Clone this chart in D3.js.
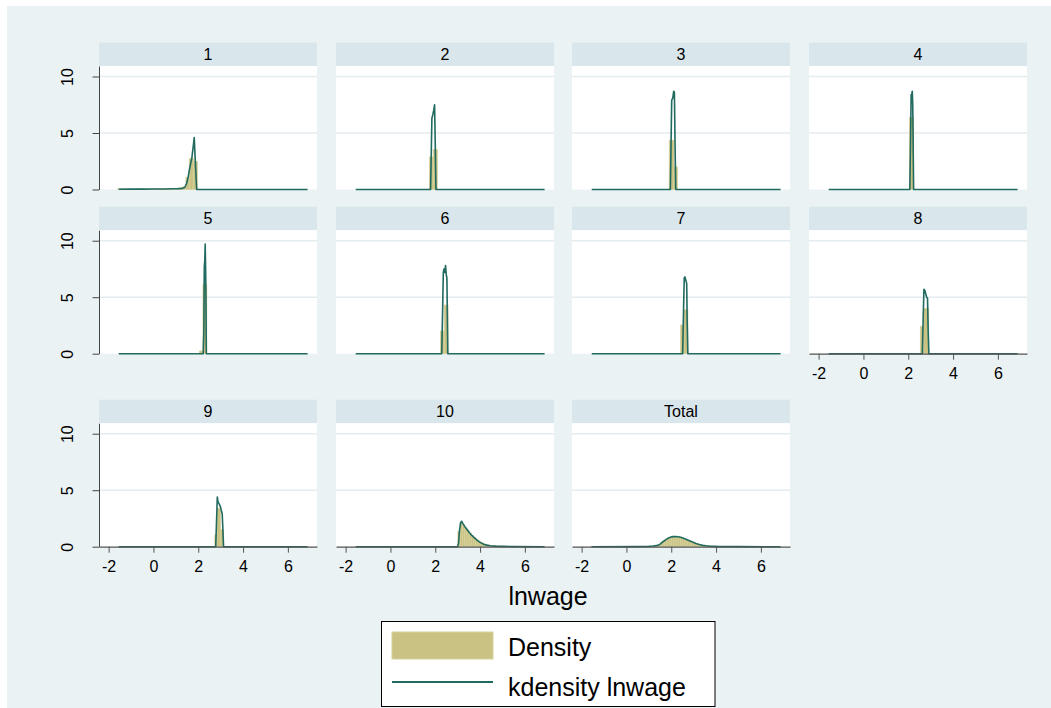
<!DOCTYPE html>
<html>
<head>
<meta charset="utf-8">
<script src="https://cdn.jsdelivr.net/npm/d3@7/dist/d3.min.js"></script>
<style>
    body { margin: 0; background: #ffffff; }
    svg text { font-family: "Liberation Sans", Arial, Helvetica, sans-serif; fill: #000; }
</style>
</head>
<body>
<div id="chart"></div>
<script>
// panel titles (deciles of lnwage + total)
var panelLabels = ["1", "2", "3", "4", "5", "6", "7", "8", "9", "10", "Total"];
var xTicks = [-2, 0, 2, 4, 6];
var yTicks = [0, 5, 10];

// histogram bars: [from, to, density]
var hist1 = [[-1.61, -1.44, 0.05], [-1.44, -1.27, 0.05], [-1.27, -1.10, 0.03], [-0.76, -0.59, 0.04],
    [-0.59, -0.42, 0.05], [-0.25, -0.08, 0.04], [-0.08, 0.09, 0.05], [0.09, 0.26, 0.05], [0.26, 0.43, 0.06],
    [0.43, 0.60, 0.06], [0.60, 0.77, 0.07], [0.77, 0.94, 0.08], [0.94, 1.11, 0.10], [1.11, 1.28, 0.12],
    [1.28, 1.45, 0.23], [1.45, 1.60, 1.06], [1.60, 1.78, 2.74], [1.78, 1.96, 2.50]];
var hist2 = [[1.74, 1.91, 2.88], [1.91, 2.09, 3.54]];
var hist3 = [[1.91, 2.12, 4.36], [2.12, 2.27, 2.00]];
var hist4 = [[2.05, 2.23, 6.37]];
var hist5 = [[2.06, 2.21, 0.24], [2.21, 2.38, 6.10]];
var hist6 = [[2.23, 2.40, 2.00], [2.40, 2.57, 4.30]];
var hist7 = [[2.42, 2.57, 2.54], [2.57, 2.74, 3.88]];
var hist8 = [[2.54, 2.69, 2.40], [2.69, 2.91, 4.00]];
var hist9 = [[2.74, 2.84, 1.05], [2.84, 3.00, 3.40], [3.00, 3.13, 1.50]];
var hist10 = [[3.01, 3.11, 1.33], [3.11, 3.21, 2.15], [3.21, 3.31, 1.95], [3.31, 3.41, 1.68], [3.41, 3.51, 1.42],
    [3.51, 3.61, 1.20], [3.61, 3.71, 0.98], [3.71, 3.81, 0.80], [3.81, 3.91, 0.63], [3.91, 4.01, 0.48],
    [4.01, 4.11, 0.36], [4.11, 4.21, 0.27], [4.21, 4.31, 0.20], [4.31, 4.41, 0.14], [4.41, 4.51, 0.10],
    [4.51, 4.61, 0.08], [4.61, 4.71, 0.06], [4.71, 4.81, 0.05], [4.81, 4.91, 0.04], [4.91, 5.01, 0.03],
    [5.01, 5.11, 0.03], [5.11, 5.21, 0.02], [5.21, 5.31, 0.02], [5.41, 5.51, 0.02], [5.51, 5.61, 0.01],
    [5.71, 5.81, 0.01], [5.91, 6.01, 0.02], [6.01, 6.11, 0.01], [6.21, 6.31, 0.01], [6.41, 6.51, 0.01],
    [6.71, 6.81, 0.02]];
var histTotal = [[-1.59, -1.49, 0.01], [-1.29, -1.19, 0.01], [-0.99, -0.89, 0.01], [-0.69, -0.59, 0.01],
    [-0.39, -0.29, 0.01], [-0.09, 0.01, 0.01], [0.21, 0.31, 0.01], [0.41, 0.51, 0.01], [0.61, 0.71, 0.01],
    [0.81, 0.91, 0.02], [1.01, 1.11, 0.03], [1.11, 1.21, 0.04], [1.21, 1.31, 0.06], [1.31, 1.41, 0.10],
    [1.41, 1.51, 0.18], [1.51, 1.61, 0.32], [1.61, 1.71, 0.48], [1.71, 1.81, 0.62], [1.81, 1.91, 0.74],
    [1.91, 2.01, 0.82], [2.01, 2.11, 0.88], [2.11, 2.21, 0.90], [2.21, 2.31, 0.88], [2.31, 2.41, 0.85],
    [2.41, 2.51, 0.79], [2.51, 2.61, 0.73], [2.61, 2.71, 0.65], [2.71, 2.81, 0.56], [2.81, 2.91, 0.48],
    [2.91, 3.01, 0.40], [3.01, 3.11, 0.33], [3.11, 3.21, 0.27], [3.21, 3.31, 0.21], [3.31, 3.41, 0.15],
    [3.41, 3.51, 0.11], [3.51, 3.61, 0.08], [3.61, 3.71, 0.06], [3.71, 3.81, 0.04], [3.81, 3.91, 0.03],
    [3.91, 4.01, 0.02], [4.01, 4.11, 0.02], [4.21, 4.31, 0.01], [4.51, 4.61, 0.01], [4.81, 4.91, 0.01],
    [5.21, 5.31, 0.01], [5.61, 5.71, 0.01], [6.01, 6.11, 0.01], [6.41, 6.51, 0.01], [6.71, 6.81, 0.01]];

// kdensity curves: [lnwage, density]
var kd1 = [[-1.55, 0.02], [-1.0, 0.03], [-0.5, 0.03], [0, 0.04], [0.5, 0.05], [0.9, 0.07], [1.11, 0.08],
    [1.3, 0.10], [1.4, 0.20], [1.48, 0.53], [1.55, 1.1], [1.6, 1.7], [1.66, 2.3], [1.71, 2.74], [1.77, 3.7],
    [1.82, 4.6], [1.88, 2.0], [1.93, 0], [2.5, 0], [6.88, 0]];
var kd2 = [[-1.55, 0], [1.79, 0], [1.82, 3.0], [1.85, 6.3], [1.89, 6.6], [1.93, 7.0], [1.97, 7.5], [2.0, 4.0], [2.03, 0], [6.88, 0]];
var kd3 = [[-1.55, 0], [1.96, 0], [1.99, 4.0], [2.02, 7.9], [2.07, 8.1], [2.11, 8.7], [2.14, 8.6], [2.17, 4.0], [2.2, 0], [6.88, 0]];
var kd4 = [[-1.55, 0], [2.07, 0], [2.1, 4.0], [2.13, 8.4], [2.15, 8.3], [2.18, 8.7], [2.2, 7.5], [2.24, 0], [6.88, 0]];
var kd5 = [[-1.55, 0], [2.22, 0], [2.25, 2.0], [2.27, 7.7], [2.29, 8.2], [2.31, 9.7], [2.34, 6.0], [2.36, 0], [6.88, 0]];
var kd6 = [[-1.55, 0], [2.29, 0], [2.33, 4.0], [2.36, 7.2], [2.39, 7.5], [2.42, 7.2], [2.46, 7.8], [2.49, 7.0], [2.52, 6.7], [2.56, 0], [6.88, 0]];
var kd7 = [[-1.55, 0], [2.51, 0], [2.55, 4.0], [2.58, 6.7], [2.61, 6.8], [2.65, 6.5], [2.69, 6.2], [2.71, 3.0], [2.74, 0], [6.88, 0]];
var kd8 = [[-1.55, 0], [2.63, 0], [2.67, 3.5], [2.70, 5.7], [2.74, 5.6], [2.78, 5.3], [2.82, 5.0], [2.86, 4.9], [2.89, 2.0], [2.92, 0], [6.88, 0]];
var kd9 = [[-1.55, 0], [2.78, 0], [2.82, 2.5], [2.85, 4.4], [2.88, 4.0], [2.93, 3.8], [2.98, 3.6], [3.03, 3.2], [3.07, 2.9], [3.10, 1.5], [3.13, 0], [6.88, 0]];
var kd10 = [[-1.55, 0], [3.0, 0], [3.04, 0.3], [3.08, 1.4], [3.13, 2.1], [3.18, 2.25], [3.25, 2.0], [3.33, 1.75],
    [3.41, 1.55], [3.52, 1.25], [3.63, 1.0], [3.75, 0.78], [3.86, 0.58], [4.0, 0.38], [4.16, 0.22], [4.3, 0.14],
    [4.45, 0.09], [4.7, 0.05], [5.05, 0.03], [5.5, 0.01], [6.88, 0]];
var kdTotal = [[-1.55, 0], [0.5, 0.01], [1.0, 0.03], [1.2, 0.06], [1.41, 0.12], [1.52, 0.25], [1.63, 0.44],
    [1.75, 0.60], [1.85, 0.74], [1.96, 0.83], [2.07, 0.89], [2.2, 0.90], [2.3, 0.88], [2.42, 0.83], [2.52, 0.76],
    [2.66, 0.65], [2.81, 0.53], [2.95, 0.41], [3.1, 0.29], [3.25, 0.20], [3.4, 0.12], [3.55, 0.08], [3.7, 0.05],
    [3.9, 0.03], [4.15, 0.01], [5.0, 0.005], [6.88, 0]];

var histData = [hist1, hist2, hist3, hist4, hist5, hist6, hist7, hist8, hist9, hist10, histTotal];
var kdData = [kd1, kd2, kd3, kd4, kd5, kd6, kd7, kd8, kd9, kd10, kdTotal];

var barColor = "#c9c283";
var lineColor = "#216a5f";

var width = 1051, height = 708;
var svg = d3.select("#chart").append("svg")
    .attr("width", width)
    .attr("height", height);

// graph region background
svg.append("rect")
    .attr("x", 7).attr("y", 6)
    .attr("width", width - 7).attr("height", height - 6)
    .attr("fill", "#eaf2f3");

var colLeft = [99, 336, 572, 809];
var stripTop = [42.5, 206.7, 399.7];
var panelW = 218, stripH = 23.5, plotH = 123.5;

panelLabels.forEach(function (label, i) {
    var row = Math.floor(i / 4), col = i % 4;
    var left = colLeft[col];
    var top = stripTop[row] + stripH;
    var base = top + plotH;

    var x = d3.scaleLinear().domain([-2.43, 7.3]).range([left, left + panelW]);
    var y = d3.scaleLinear().domain([0, 10.93]).range([base, top]);

    var g = svg.append("g");

    // strip
    g.append("rect")
        .attr("x", left).attr("y", stripTop[row])
        .attr("width", panelW).attr("height", stripH)
        .attr("fill", "#d9e6eb");
    g.append("text")
        .attr("x", left + panelW / 2)
        .attr("y", stripTop[row] + stripH / 2 + 5.8)
        .attr("text-anchor", "middle")
        .style("font-size", "16px")
        .text(label);

    // plot region
    g.append("rect")
        .attr("x", left).attr("y", top)
        .attr("width", panelW).attr("height", plotH)
        .attr("fill", "#ffffff");

    g.selectAll(".grid")
        .data([5, 10])
        .enter().append("line")
        .attr("x1", left).attr("x2", left + panelW)
        .attr("y1", function (d) { return y(d); })
        .attr("y2", function (d) { return y(d); })
        .attr("stroke", "#e4ecef")
        .attr("stroke-width", 1.5);

    // histogram
    g.selectAll(".bar")
        .data(histData[i])
        .enter().append("rect")
        .attr("x", function (d) { return x(d[0]); })
        .attr("width", function (d) { return x(d[1]) - x(d[0]); })
        .attr("y", function (d) { return y(d[2]); })
        .attr("height", function (d) { return base - y(d[2]); })
        .attr("fill", barColor)
        .attr("stroke", "#d6d19e")
        .attr("stroke-width", 0.8);

    // kernel density
    var line = d3.line()
        .x(function (d) { return x(d[0]); })
        .y(function (d) { return y(d[1]); });
    g.append("path")
        .datum(kdData[i])
        .attr("d", line)
        .attr("fill", "none")
        .attr("stroke", lineColor)
        .attr("stroke-width", 1.6)
        .attr("stroke-linejoin", "round");

    // y axis on first column
    if (col == 0) {
        var yAxis = d3.axisLeft(y).tickValues(yTicks).tickSize(6.5).tickSizeOuter(0)
            .tickFormat(function (d) { return String(d); });
        var ya = g.append("g")
            .attr("transform", "translate(" + left + ",0)")
            .call(yAxis);
        ya.select(".domain").attr("stroke", "#444");
        ya.selectAll(".tick line").attr("stroke", "#444");
        ya.selectAll(".tick text")
            .attr("transform", "rotate(-90)")
            .attr("x", 0).attr("y", -26).attr("dy", 0)
            .attr("text-anchor", "middle")
            .style("font-size", "16px")
            .style("font-family", "'Liberation Sans', Arial, sans-serif")
            .attr("fill", "#000");
    }

    // x axis on bottom panels of each column (plain hyphen minus like the original)
    if (i >= 7) {
        var xAxis = d3.axisBottom(x).tickValues(xTicks).tickSize(6).tickPadding(8).tickSizeOuter(0)
            .tickFormat(function (d) { return String(d); });
        var xa = g.append("g")
            .attr("transform", "translate(0," + base + ")")
            .call(xAxis);
        xa.select(".domain").attr("stroke", "#555").attr("stroke-width", 1.2);
        xa.selectAll(".tick line").attr("stroke", "#555");
        xa.selectAll(".tick text")
            .style("font-size", "16px")
            .style("font-family", "'Liberation Sans', Arial, sans-serif")
            .attr("fill", "#000");
    }
});

// x axis title
svg.append("text")
    .attr("x", 548).attr("y", 605)
    .attr("text-anchor", "middle")
    .style("font-size", "25px")
    .text("lnwage");

// legend
var lg = svg.append("g");
lg.append("rect")
    .attr("x", 381.5).attr("y", 621.5)
    .attr("width", 333.5).attr("height", 85)
    .attr("fill", "#ffffff")
    .attr("stroke", "#000")
    .attr("stroke-width", 1);
lg.append("rect")
    .attr("x", 392).attr("y", 632)
    .attr("width", 101).attr("height", 27)
    .attr("fill", barColor)
    .attr("stroke", "#d6d19e")
    .attr("stroke-width", 1);
lg.append("text")
    .attr("x", 508).attr("y", 655.5)
    .style("font-size", "25px")
    .text("Density");
lg.append("line")
    .attr("x1", 392).attr("x2", 493)
    .attr("y1", 682).attr("y2", 682)
    .attr("stroke", lineColor)
    .attr("stroke-width", 2.2);
lg.append("text")
    .attr("x", 508).attr("y", 696)
    .style("font-size", "25px")
    .text("kdensity lnwage");
</script>
</body>
</html>
